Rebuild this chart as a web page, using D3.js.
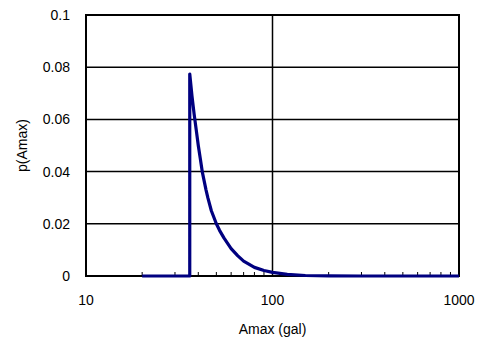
<!DOCTYPE html>
<html>
<head>
<meta charset="utf-8">
<script src="https://cdn.jsdelivr.net/npm/d3@7"></script>
<style>
  body { margin: 0; background: #fff; }
  text { font-family: "Liberation Sans", Arial, sans-serif; fill: #000; }
</style>
</head>
<body>
<svg id="chart"></svg>
<script>
// values
var amax = [20, 36, 36, 37, 38, 39, 40, 41, 42, 44, 45, 47, 50, 52, 55, 60, 65, 70, 80, 90, 100, 120, 150, 200, 300, 1000];
var prob = [0, 0, 0.0774, 0.069, 0.062, 0.056, 0.050, 0.045, 0.040, 0.033, 0.030, 0.025, 0.020, 0.0175, 0.0145, 0.0105, 0.0078, 0.0057, 0.0033, 0.0021, 0.0014, 0.0006, 0.0002, 0.00005, 0, 0];
var yTicks = [0, 0.02, 0.04, 0.06, 0.08, 0.1];
var xTicks = [10, 100, 1000];
var minorTicks = [20, 30, 40, 50, 60, 70, 80, 90, 200, 300, 400, 500, 600, 700, 800, 900];

var width = 481, height = 340;
var margin = { top: 15, right: 22, bottom: 64, left: 86 };

var svg = d3.select('#chart')
    .attr('width', width)
    .attr('height', height);

var xScale = d3.scaleLog()
    .domain([10, 1000])
    .range([margin.left, width - margin.right]);
var yScale = d3.scaleLinear()
    .domain([0, 0.1])
    .range([height - margin.bottom, margin.top]);

// horizontal grid
svg.append('g')
    .selectAll('line')
    .data(yTicks)
    .join('line')
    .attr('x1', margin.left)
    .attr('x2', width - margin.right)
    .attr('y1', function(d) { return yScale(d); })
    .attr('y2', function(d) { return yScale(d); })
    .attr('stroke', '#000')
    .attr('stroke-width', 1.5);

// vertical grid
svg.append('g')
    .selectAll('line')
    .data(xTicks)
    .join('line')
    .attr('x1', function(d) { return xScale(d); })
    .attr('x2', function(d) { return xScale(d); })
    .attr('y1', yScale(0))
    .attr('y2', yScale(0.1))
    .attr('stroke', '#000')
    .attr('stroke-width', 1.5);

// minor ticks on the x axis, pointing up
svg.append('g')
    .selectAll('line')
    .data(minorTicks)
    .join('line')
    .attr('x1', function(d) { return xScale(d); })
    .attr('x2', function(d) { return xScale(d); })
    .attr('y1', yScale(0))
    .attr('y2', yScale(0) - 4)
    .attr('stroke', '#000')
    .attr('stroke-width', 1);

// plot frame
svg.append('rect')
    .attr('x', margin.left)
    .attr('y', margin.top)
    .attr('width', width - margin.left - margin.right)
    .attr('height', height - margin.top - margin.bottom)
    .attr('fill', 'none')
    .attr('stroke', '#000')
    .attr('stroke-width', 2);

// data line
var line = d3.line()
    .x(function(d) { return xScale(d[0]); })
    .y(function(d) { return yScale(d[1]); });

svg.append('path')
    .datum(d3.zip(amax, prob))
    .attr('d', line)
    .attr('fill', 'none')
    .attr('stroke', '#000080')
    .attr('stroke-width', 3.2)
    .attr('stroke-linejoin', 'round');

// tick labels
svg.append('g')
    .selectAll('text')
    .data(yTicks)
    .join('text')
    .attr('x', 70)
    .attr('y', function(d) { return yScale(d); })
    .attr('dy', '0.35em')
    .attr('text-anchor', 'end')
    .style('font-size', '14px')
    .text(function(d) { return d3.format('~g')(d); });

svg.append('g')
    .selectAll('text')
    .data(xTicks)
    .join('text')
    .attr('x', function(d) { return xScale(d); })
    .attr('y', 305)
    .attr('text-anchor', 'middle')
    .style('font-size', '14px')
    .text(function(d) { return d; });

// axis titles
svg.append('text')
    .attr('x', xScale(100))
    .attr('y', 334)
    .attr('text-anchor', 'middle')
    .style('font-size', '14px')
    .text('Amax (gal)');

svg.append('text')
    .attr('transform', 'translate(27,' + yScale(0.05) + ') rotate(-90)')
    .attr('text-anchor', 'middle')
    .style('font-size', '14px')
    .text('p(Amax)');
</script>
</body>
</html>
